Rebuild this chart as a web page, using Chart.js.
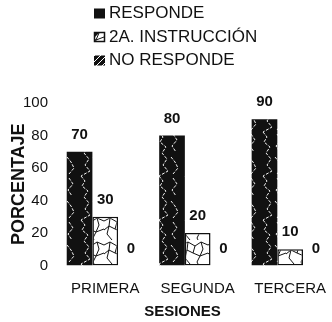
<!DOCTYPE html>
<html>
<head>
<meta charset="utf-8">
<script src="https://cdn.jsdelivr.net/npm/chart.js@4.4.0/dist/chart.umd.min.js"></script>
<style>
  html, body { margin: 0; padding: 0; background: #fff; overflow: hidden; }
  #wrap { width: 340px; height: 322px; }
</style>
</head>
<body>
<div id="wrap"><canvas id="grafico"></canvas></div>
<script>
const sesiones = ['PRIMERA', 'SEGUNDA', 'TERCERA'];
const responde = [70, 80, 90];
const instruccion = [30, 20, 10];
const noResponde = [0, 0, 0];
const nombresSeries = ['RESPONDE', '2A. INSTRUCCIÓN', 'NO RESPONDE'];
const FUENTE = '"Liberation Sans", Arial, Helvetica, sans-serif';

// texturas de las barras (tramas del original escaneado)
function trazar(g, lineas) {
    lineas.forEach(l => {
        g.beginPath();
        g.moveTo(l[0][0], l[0][1]);
        for (let i = 1; i < l.length; i++) g.lineTo(l[i][0], l[i][1]);
        g.stroke();
    });
}

function patronNegro() {
    const c = document.createElement('canvas');
    c.width = 26; c.height = 44;
    const g = c.getContext('2d');
    g.fillStyle = '#111';
    g.fillRect(0, 0, 26, 44);
    g.strokeStyle = 'rgba(255,255,255,0.95)';
    g.lineWidth = 1;
    g.setLineDash([3, 1.5]);
    trazar(g, [
        [[3, 0], [7, 5], [4, 10], [10, 15], [6, 21], [11, 27], [7, 33], [12, 39], [3, 44]],
        [[17, 2], [21, 8], [16, 14], [20, 20]],
        [[15, 25], [19, 30], [22, 36], [17, 42]]
    ]);
    return g.createPattern(c, 'repeat');
}

function patronBlanco() {
    const c = document.createElement('canvas');
    c.width = 26; c.height = 24;
    const g = c.getContext('2d');
    g.fillStyle = '#fff';
    g.fillRect(0, 0, 26, 24);
    g.strokeStyle = '#111';
    g.lineWidth = 1;
    trazar(g, [
        [[0, 5], [6, 2], [13, 6], [19, 2], [26, 5]],
        [[6, 2], [5, 10], [0, 14]],
        [[13, 6], [11, 13], [5, 10]],
        [[11, 13], [18, 16], [26, 13]],
        [[19, 2], [21, 9], [18, 16]],
        [[5, 10], [3, 18], [8, 24]],
        [[18, 16], [15, 22], [16, 24]]
    ]);
    return g.createPattern(c, 'repeat');
}

function patronRayado() {
    const c = document.createElement('canvas');
    c.width = 6; c.height = 6;
    const g = c.getContext('2d');
    g.fillStyle = '#111';
    g.fillRect(0, 0, 6, 6);
    g.strokeStyle = '#fff';
    g.lineWidth = 1;
    trazar(g, [[[0, 6], [6, 0]]]);
    return g.createPattern(c, 'repeat');
}

const rellenos = [patronNegro(), patronBlanco(), patronRayado()];

// valores encima de cada barra
const etiquetas = {
    id: 'etiquetas',
    afterDatasetsDraw(chart) {
        const ctx = chart.ctx;
        ctx.save();
        ctx.font = 'bold 15px ' + FUENTE;
        ctx.fillStyle = '#111';
        ctx.textAlign = 'center';
        ctx.textBaseline = 'middle';
        chart.data.datasets.forEach((ds, i) => {
            chart.getDatasetMeta(i).data.forEach((bar, j) => {
                ctx.fillText(String(ds.data[j]), bar.x, bar.y - 17);
            });
        });
        ctx.restore();
    }
};

// leyenda en lista y titulo del eje x
const leyenda = {
    id: 'leyenda',
    afterDraw(chart) {
        const ctx = chart.ctx;
        ctx.save();
        ctx.font = '17px ' + FUENTE;
        ctx.textBaseline = 'middle';
        ctx.textAlign = 'left';
        const filas = [13.5, 37, 60.5];
        chart.data.datasets.forEach((ds, i) => {
            const y = filas[i];
            ctx.fillStyle = i === 0 ? '#111' : ds.backgroundColor;
            ctx.fillRect(94, y - 5, 11, 10);
            if (i === 1) {
                ctx.strokeStyle = '#111';
                ctx.lineWidth = 1.5;
                ctx.strokeRect(94.5, y - 4.5, 10, 9);
                ctx.fillStyle = '#111';
                ctx.beginPath();
                ctx.moveTo(94, y - 5);
                ctx.lineTo(100, y - 5);
                ctx.lineTo(94, y + 1);
                ctx.fill();
            }
            ctx.fillStyle = '#111';
            ctx.fillText(ds.label, 109, y);
        });
        ctx.font = 'bold 15px ' + FUENTE;
        ctx.textAlign = 'center';
        ctx.fillText('SESIONES', 182.5, 312);
        ctx.restore();
    }
};

const ctx = document.getElementById('grafico').getContext('2d');

new Chart(ctx, {
    type: 'bar',
    data: {
        labels: sesiones,
        datasets: [
            { label: nombresSeries[0], data: responde, backgroundColor: rellenos[0], borderWidth: 0 },
            { label: nombresSeries[1], data: instruccion, backgroundColor: rellenos[1], borderColor: '#111', borderWidth: 1.5 },
            { label: nombresSeries[2], data: noResponde, backgroundColor: rellenos[2], borderWidth: 0 }
        ]
    },
    options: {
        responsive: true,
        maintainAspectRatio: false,
        animation: false,
        layout: { padding: { top: 103, left: 0, right: 0, bottom: 0 } },
        datasets: {
            bar: { categoryPercentage: 0.833, barPercentage: 1.0, borderSkipped: false }
        },
        plugins: {
            legend: { display: false },
            tooltip: { enabled: false }
        },
        scales: {
            x: {
                grid: { display: false, drawTicks: false },
                border: { display: false },
                ticks: { color: '#111', padding: 14, font: { family: FUENTE, size: 15 } },
                afterFit(scale) { scale.height = 56.5; }
            },
            y: {
                min: 0,
                max: 100,
                grid: { display: false, drawTicks: false },
                border: { display: false },
                ticks: { stepSize: 20, color: '#111', padding: 11, font: { family: FUENTE, size: 15 } },
                title: {
                    display: true,
                    text: 'PORCENTAJE',
                    color: '#111',
                    padding: { top: 8, bottom: 0 },
                    font: { family: FUENTE, size: 18, weight: 'bold' }
                },
                afterFit(scale) { scale.width = 59; }
            }
        }
    },
    plugins: [etiquetas, leyenda]
});
</script>
</body>
</html>
